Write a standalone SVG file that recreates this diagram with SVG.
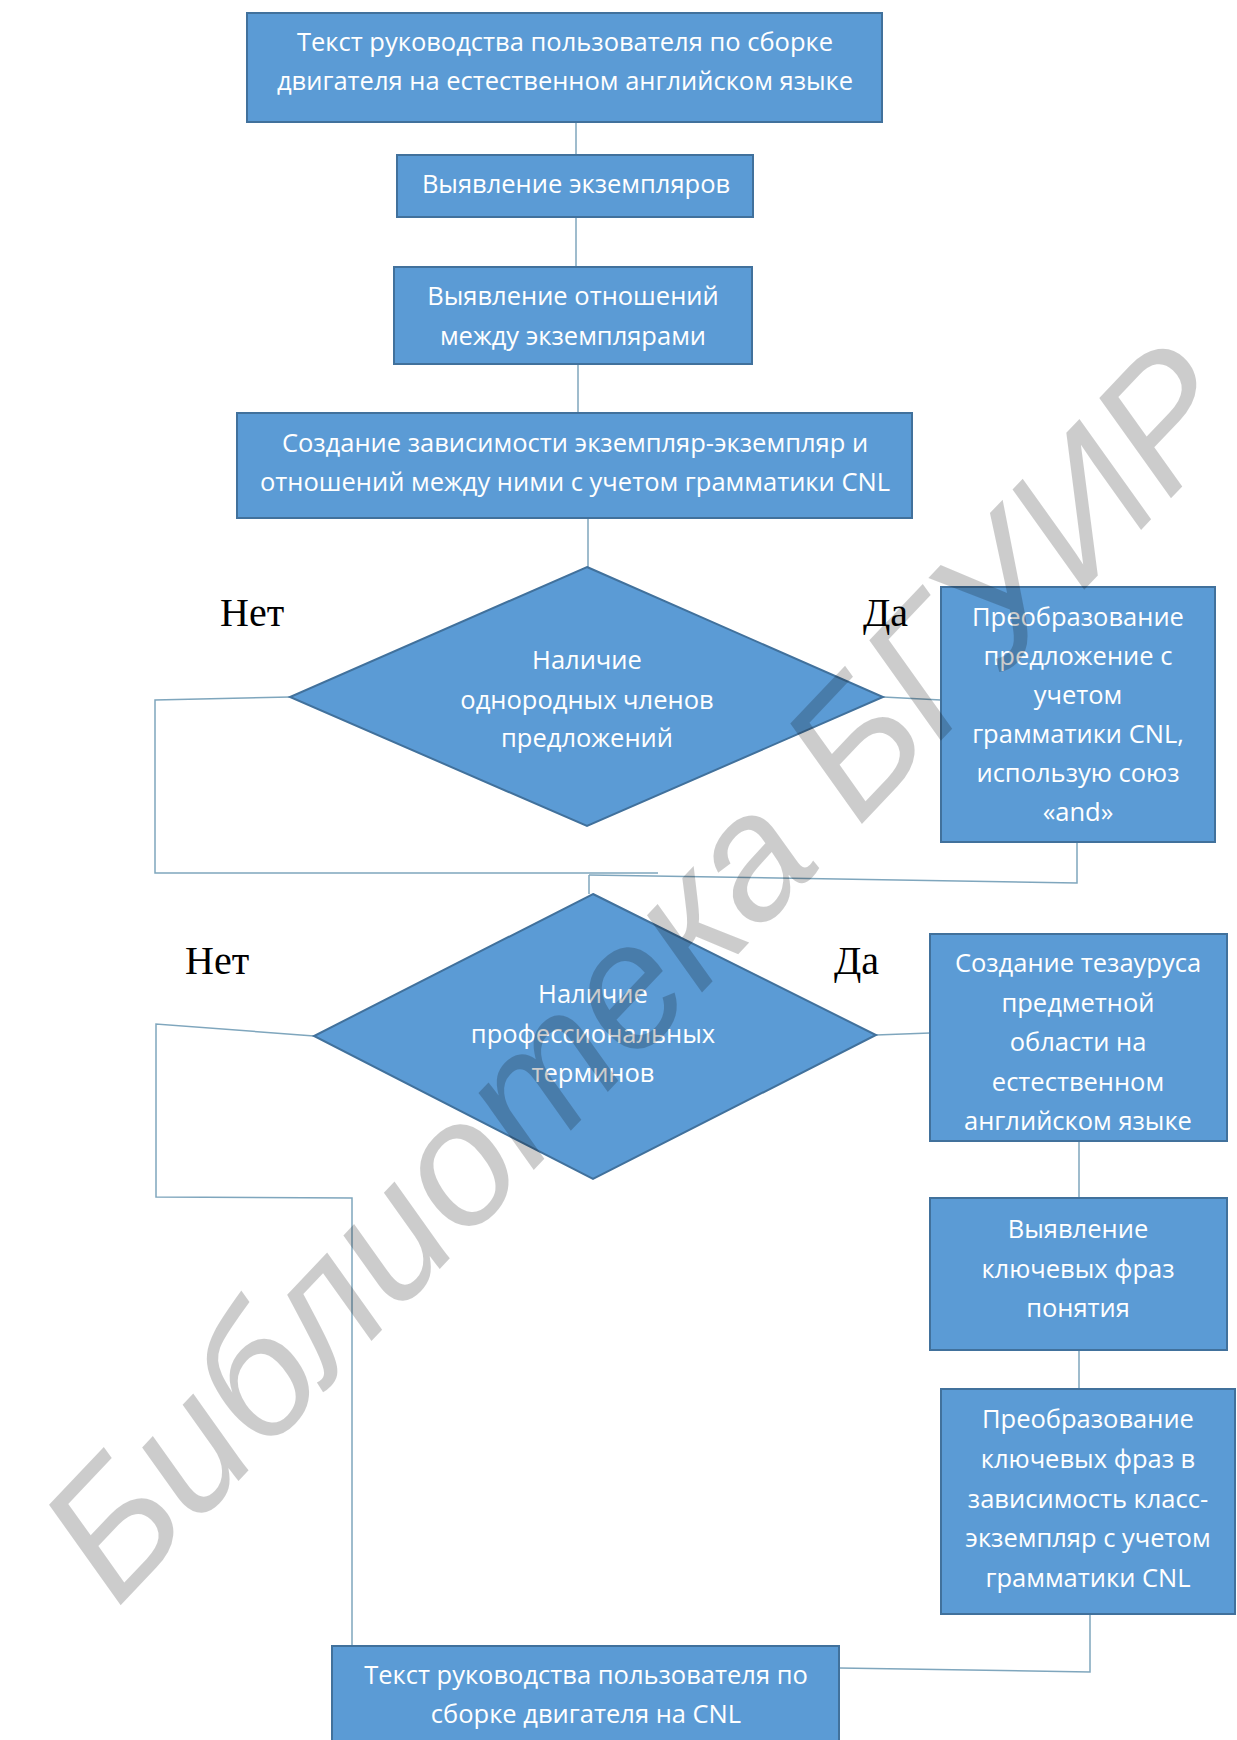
<svg xmlns="http://www.w3.org/2000/svg" width="1237" height="1740" viewBox="0 0 1237 1740">
<style>
.box{fill:#5B9BD5;stroke:#41719C;stroke-width:2}
.t{font-family:"Open Sans","Liberation Sans",sans-serif;font-size:25.5px;fill:#ffffff;text-anchor:middle}
.lbl{font-family:"Liberation Serif","Times New Roman",serif;font-size:40px;fill:#000000}
.ln{fill:none;stroke:#7FA6BD;stroke-width:1.5}
.wm{font-family:"Liberation Sans",Arial,sans-serif;font-style:italic;font-size:176px;fill:#000000;fill-opacity:0.2}
</style>
<rect width="1237" height="1740" fill="#ffffff"/>
<g id="connectors">
<line class="ln" x1="576" y1="122" x2="576" y2="155"/>
<line class="ln" x1="576" y1="217" x2="576" y2="267"/>
<line class="ln" x1="578" y1="364" x2="578" y2="413"/>
<line class="ln" x1="588" y1="518" x2="588" y2="567"/>
<line class="ln" x1="883" y1="697" x2="941" y2="700"/>
<polyline class="ln" points="290,697 155,700 155,873 658,873"/>
<polyline class="ln" points="1077,842 1077,883 589,875"/>
<line class="ln" x1="589" y1="875" x2="589" y2="894"/>
<polyline class="ln" points="314,1036 156,1024 156,1197 352,1198 352,1646"/>
<line class="ln" x1="876" y1="1035" x2="930" y2="1033"/>
<line class="ln" x1="1079" y1="1141" x2="1079" y2="1198"/>
<line class="ln" x1="1079" y1="1350" x2="1079" y2="1389"/>
<polyline class="ln" points="1090,1614 1090,1672 839,1668"/>
</g>
<g id="n1"><rect class="box" x="247" y="13" width="635" height="109"/>
<text class="t" x="565" y="51">Текст руководства пользователя по сборке</text>
<text class="t" x="565" y="90">двигателя на естественном английском языке</text></g>
<g id="n2"><rect class="box" x="397" y="155" width="356" height="62"/>
<text class="t" x="576" y="193">Выявление экземпляров</text></g>
<g id="n3"><rect class="box" x="394" y="267" width="358" height="97"/>
<text class="t" x="573" y="305">Выявление отношений</text>
<text class="t" x="573" y="345">между экземплярами</text></g>
<g id="n4"><rect class="box" x="237" y="413" width="675" height="105"/>
<text class="t" x="575" y="452">Создание зависимости экземпляр-экземпляр и</text>
<text class="t" x="575" y="491">отношений между ними с учетом грамматики CNL</text></g>
<g id="d1"><polygon class="box" points="587,567 883,697 587,826 290,697"/>
<text class="t" x="587" y="669">Наличие</text>
<text class="t" x="587" y="709">однородных членов</text>
<text class="t" x="587" y="747">предложений</text></g>
<g id="lbl1"><text class="lbl" x="220" y="626">Нет</text><text class="lbl" x="863" y="626">Да</text></g>
<g id="n5"><rect class="box" x="941" y="587" width="274" height="255"/>
<text class="t" x="1078" y="626">Преобразование</text>
<text class="t" x="1078" y="665">предложение с</text>
<text class="t" x="1078" y="704">учетом</text>
<text class="t" x="1078" y="743">грамматики CNL,</text>
<text class="t" x="1078" y="782">использую союз</text>
<text class="t" x="1078" y="821">«and»</text></g>
<g id="d2"><polygon class="box" points="593,894 876,1035 593,1179 314,1036"/>
<text class="t" x="593" y="1003">Наличие</text>
<text class="t" x="593" y="1043">профессиональных</text>
<text class="t" x="593" y="1082">терминов</text></g>
<g id="lbl2"><text class="lbl" x="185" y="974">Нет</text><text class="lbl" x="834" y="974">Да</text></g>
<g id="n6"><rect class="box" x="930" y="934" width="297" height="207"/>
<text class="t" x="1078" y="972">Создание тезауруса</text>
<text class="t" x="1078" y="1012">предметной</text>
<text class="t" x="1078" y="1051">области на</text>
<text class="t" x="1078" y="1091">естественном</text>
<text class="t" x="1078" y="1130">английском языке</text></g>
<g id="n7"><rect class="box" x="930" y="1198" width="297" height="152"/>
<text class="t" x="1078" y="1238">Выявление</text>
<text class="t" x="1078" y="1278">ключевых фраз</text>
<text class="t" x="1078" y="1317">понятия</text></g>
<g id="n8"><rect class="box" x="941" y="1389" width="294" height="225"/>
<text class="t" x="1088" y="1428">Преобразование</text>
<text class="t" x="1088" y="1468">ключевых фраз в</text>
<text class="t" x="1088" y="1508">зависимость класс-</text>
<text class="t" x="1088" y="1547">экземпляр с учетом</text>
<text class="t" x="1088" y="1587">грамматики CNL</text></g>
<g id="n9"><rect class="box" x="332" y="1646" width="507" height="100"/>
<text class="t" x="586" y="1684">Текст руководства пользователя по</text>
<text class="t" x="586" y="1723">сборке двигателя на CNL</text></g>
<g id="watermark"><text class="wm" x="117" y="1609" transform="rotate(-46.5 117 1609)">Библиотека БГУИР</text></g>
</svg>
